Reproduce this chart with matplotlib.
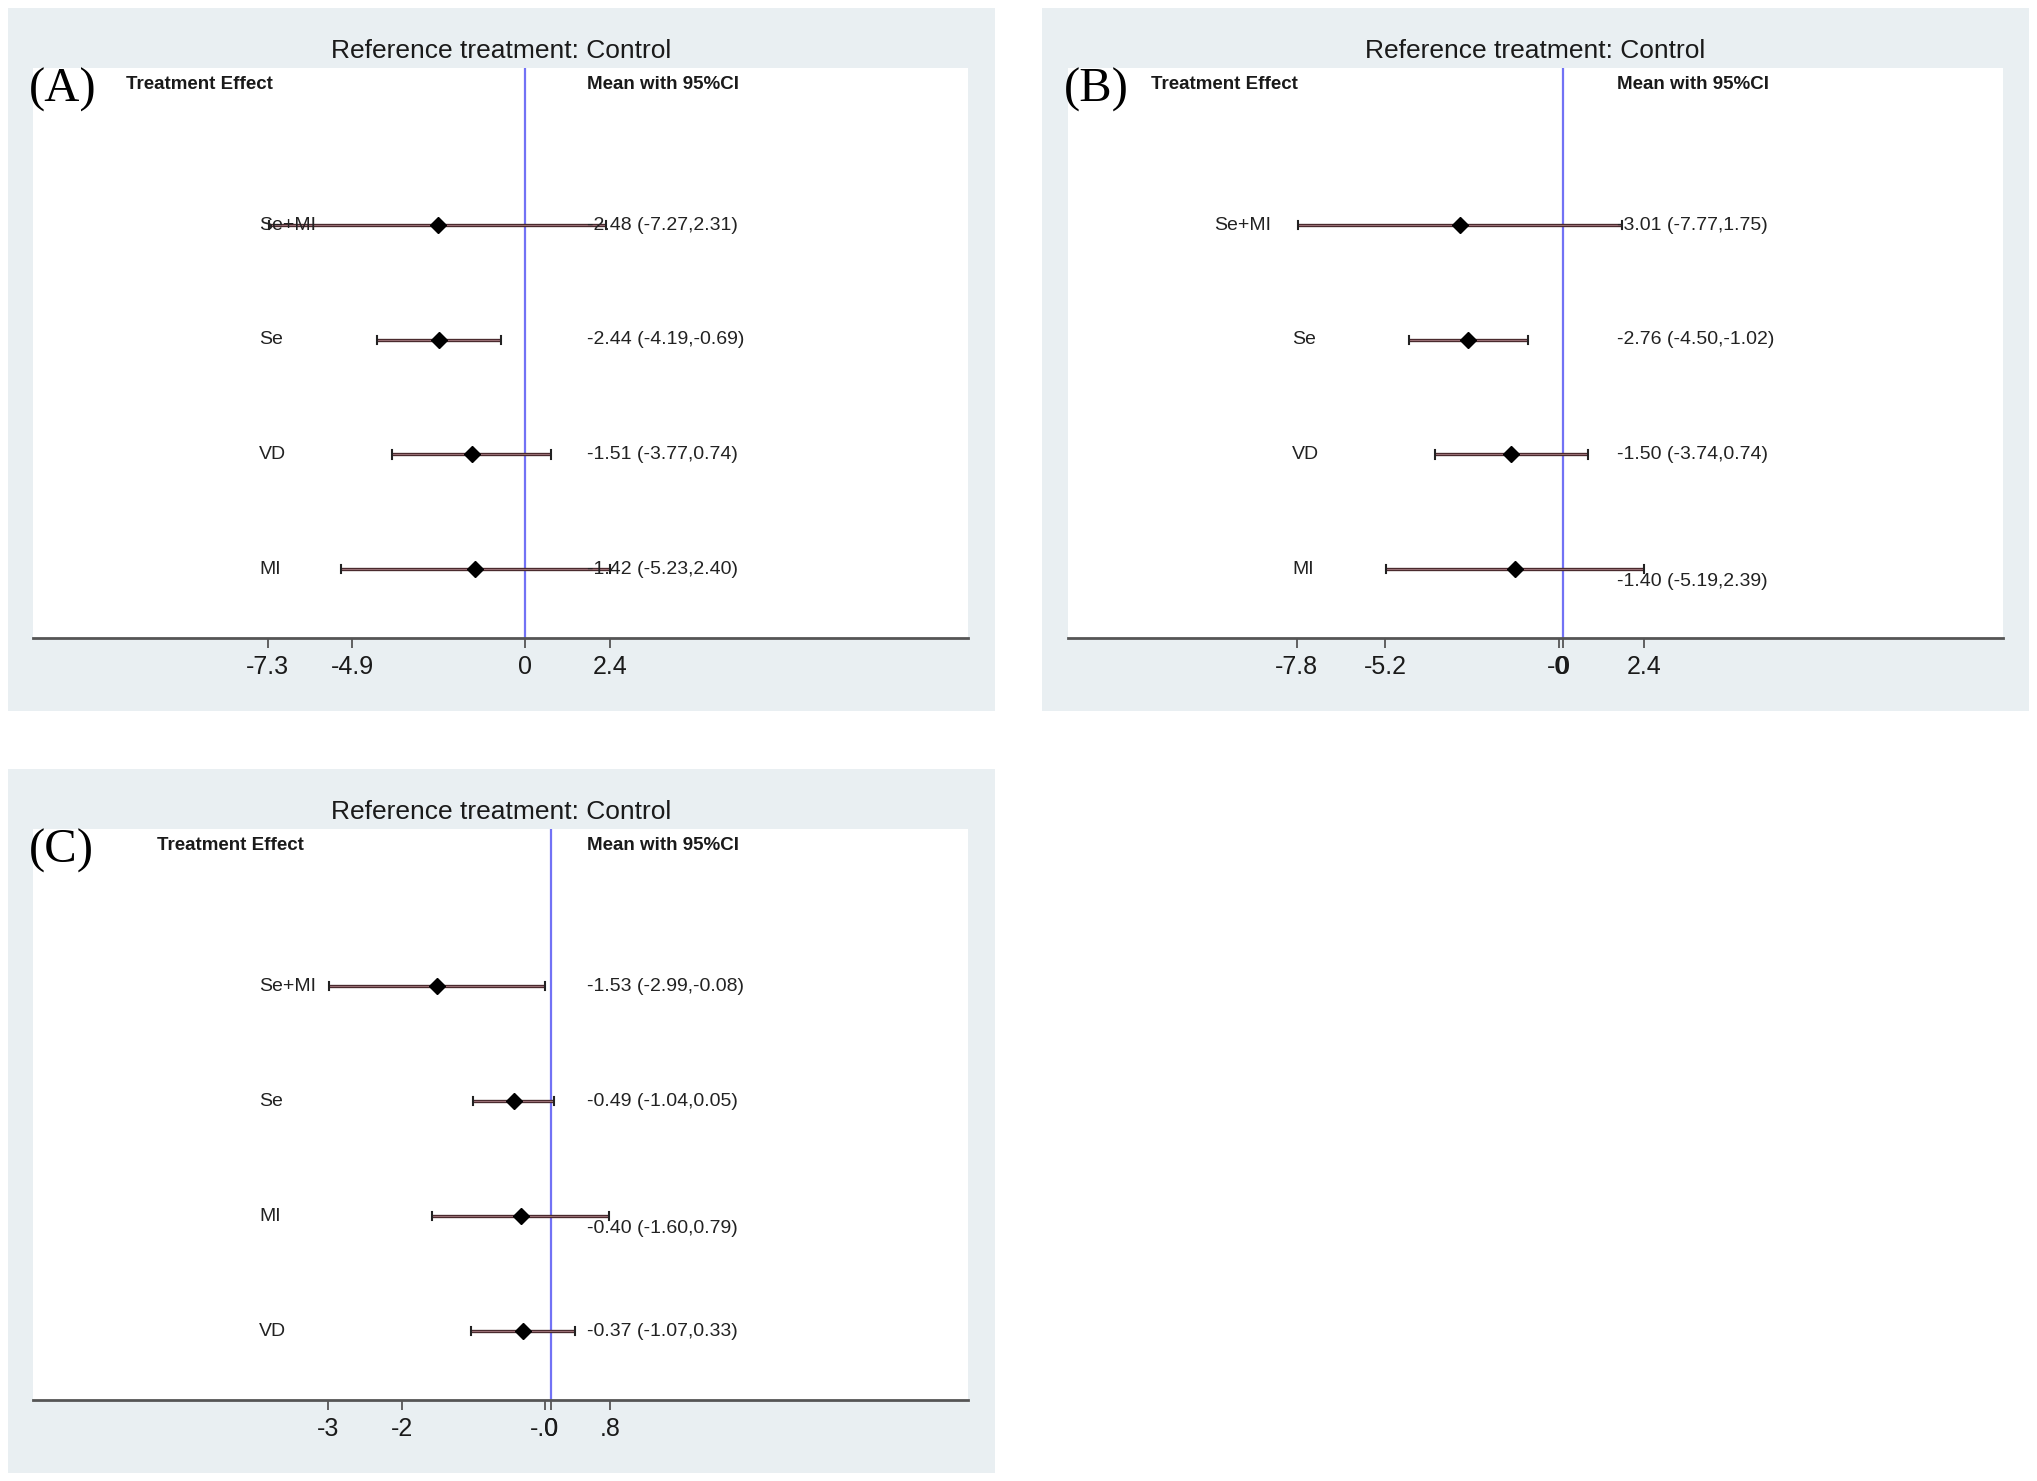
import matplotlib
matplotlib.use("Agg")
import matplotlib.pyplot as plt
from matplotlib.patches import Rectangle
from matplotlib.transforms import blended_transform_factory

plt.rcParams['font.family'] = ['Liberation Sans', 'DejaVu Sans']

# data
labels_a = ["Se+MI", "Se", "VD", "MI"]
mean_a = [-2.48, -2.44, -1.51, -1.42]
lo_a = [-7.27, -4.19, -3.77, -5.23]
hi_a = [2.31, -0.69, 0.74, 2.40]
ticks_a = [-7.3, -4.9, 0, 2.4]
ticklabels_a = ["-7.3", "-4.9", "0", "2.4"]

labels_b = ["Se+MI", "Se", "VD", "MI"]
mean_b = [-3.01, -2.76, -1.50, -1.40]
lo_b = [-7.77, -4.50, -3.74, -5.19]
hi_b = [1.75, -1.02, 0.74, 2.39]
ticks_b = [-7.8, -5.2, -0.12, 0, 2.4]
ticklabels_b = ["-7.8", "-5.2", "-0", "0", "2.4"]

labels_c = ["Se+MI", "Se", "MI", "VD"]
mean_c = [-1.53, -0.49, -0.40, -0.37]
lo_c = [-2.99, -1.04, -1.60, -1.07]
hi_c = [-0.08, 0.05, 0.79, 0.33]
ticks_c = [-3, -2, -0.08, 0, 0.8]
ticklabels_c = ["-3", "-2", "-.0", "0", ".8"]

W, H = 2037, 1481
BG = "#e9eff2"

fig = plt.figure(figsize=(W / 100, H / 100), dpi=100)
fig.patch.set_facecolor("white")


def px_axes(l, t, r, b):
    return fig.add_axes([l / W, 1 - b / H, (r - l) / W, (b - t) / H])


def panel(bg_box, plot_box, letter, labels, mean, lo, hi, ticks, ticklabels,
          xlim, te_x, lab_x, val_x, val_dy):
    l, t, r, b = bg_box
    fig.add_artist(Rectangle((l / W, 1 - b / H), (r - l) / W, (b - t) / H,
                             transform=fig.transFigure, facecolor=BG,
                             edgecolor="none", zorder=0))
    fig.text((l + r) / 2 / W, 1 - (t + 43) / H, "Reference treatment: Control",
             ha="center", va="center", fontsize=19, color="#1a1a1a")

    ax = px_axes(*plot_box)
    ax.set_facecolor("white")
    ax.set_xlim(*xlim)
    ax.set_ylim(0.4, 5.37)
    for s in ["top", "left", "right"]:
        ax.spines[s].set_visible(False)
    ax.spines["bottom"].set_color("#555555")
    ax.spines["bottom"].set_linewidth(2)
    ax.set_yticks([])
    ax.set_xticks(ticks)
    ax.set_xticklabels(ticklabels)
    ax.tick_params(axis="x", direction="out", length=7, width=1.3,
                   color="#555555", labelsize=18, pad=5, labelcolor="#1a1a1a")

    ax.axvline(0, color="#7272f5", lw=1.6, zorder=1)

    ys = [4, 3, 2, 1]
    ax.hlines(ys, lo, hi, color="#4a2a2e", lw=2.4, zorder=2)
    ax.hlines(ys, lo, hi, color="#a87c82", lw=0.6, zorder=2)
    for y, a, c in zip(ys, lo, hi):
        ax.plot([a, a], [y - 0.035, y + 0.035], color="#222222", lw=1.5, zorder=3)
        ax.plot([c, c], [y - 0.035, y + 0.035], color="#222222", lw=1.5, zorder=3)
    ax.plot(mean, ys, linestyle="none", marker="D", markersize=8.5,
            color="black", zorder=4)

    tr = blended_transform_factory(ax.transAxes, ax.transData)
    ax.text(te_x, 5.23, "Treatment Effect", transform=tr, ha="left",
            va="center", fontsize=13.5, fontweight="bold", color="#1a1a1a")
    ax.text(val_x, 5.23, "Mean with 95%CI", transform=tr, ha="left",
            va="center", fontsize=13.5, fontweight="bold", color="#1a1a1a")
    for i, (y, name) in enumerate(zip(ys, labels)):
        ax.text(lab_x[i], y, name, transform=tr, ha="left", va="center",
                fontsize=14, color="#222222", zorder=5)
        ax.text(val_x, y - val_dy[i], f"{mean[i]:.2f} ({lo[i]:.2f},{hi[i]:.2f})",
                transform=tr, ha="left", va="center", fontsize=14,
                color="#222222", zorder=5)

    fig.text((plot_box[0] - 4) / W, 1 - (plot_box[1] + 22) / H, letter,
             ha="left", va="center", fontsize=35, family="Liberation Serif",
             color="black")


panel((8, 8, 995, 711), (33, 68, 968, 638), "(A)",
      labels_a, mean_a, lo_a, hi_a, ticks_a, ticklabels_a,
      (-13.95, 12.56), 0.099, [0.242] * 4, 0.593, [0, 0, 0, 0])

panel((1042, 8, 2029, 711), (1068, 68, 2003, 638), "(B)",
      labels_b, mean_b, lo_b, hi_b, ticks_b, ticklabels_b,
      (-14.5, 12.91), 0.089, [0.156, 0.240, 0.240, 0.240], 0.5875,
      [0, 0, 0, 0.11])

panel((8, 769, 995, 1473), (33, 829, 968, 1400), "(C)",
      labels_c, mean_c, lo_c, hi_c, ticks_c, ticklabels_c,
      (-6.98, 5.63), 0.133, [0.242] * 4, 0.593, [0, 0, 0.11, 0])

fig.savefig("out.png", dpi=100, facecolor="white")
